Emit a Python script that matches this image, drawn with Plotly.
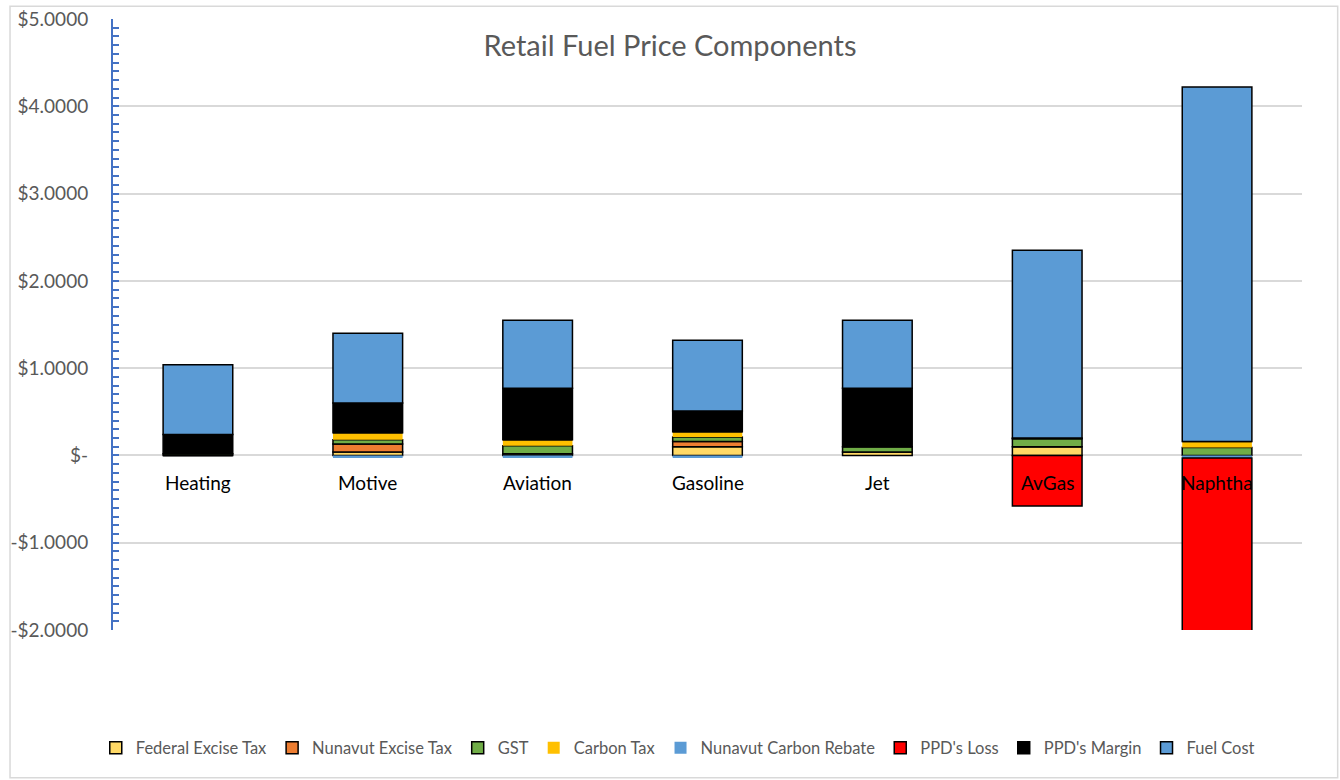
import plotly.graph_objects as go

categories = ["Heating", "Motive", "Aviation", "Gasoline", "Jet", "AvGas", "Naphtha"]

federal_excise = [0.00, 0.04, 0.02, 0.10, 0.04, 0.10, 0.00]
nunavut_excise = [0.00, 0.09, 0.00, 0.06, 0.00, 0.00, 0.00]
gst = [0.02, 0.05, 0.09, 0.05, 0.06, 0.09, 0.09]
carbon_tax = [0.00, 0.08, 0.07, 0.06, 0.00, 0.00, 0.07]
carbon_rebate = [0.00, -0.03, -0.03, -0.03, 0.00, 0.00, -0.03]
ppd_loss = [0.00, 0.00, 0.00, 0.00, 0.00, -0.58, -2.50]
ppd_margin = [0.22, 0.34, 0.59, 0.24, 0.67, 0.01, 0.00]
fuel_cost = [0.80, 0.80, 0.78, 0.81, 0.78, 2.15, 4.06]

tick_vals = [-2, -1, 0, 1, 2, 3, 4, 5]
tick_text = ["-$2.0000", "-$1.0000", "$-", "$1.0000", "$2.0000", "$3.0000", "$4.0000", "$5.0000"]

series = [
    ("Federal Excise Tax", federal_excise, "#FFD966", 1.5),
    ("Nunavut Excise Tax", nunavut_excise, "#ED7D31", 1.5),
    ("GST", gst, "#70AD47", 1.5),
    ("Carbon Tax", carbon_tax, "#FFC000", 0),
    ("Nunavut Carbon Rebate", carbon_rebate, "#5B9BD5", 0),
    ("PPD's Loss", ppd_loss, "#FF0000", 1.5),
    ("PPD's Margin", ppd_margin, "#000000", 1.5),
    ("Fuel Cost", fuel_cost, "#5B9BD5", 1.5),
]

FONT = "Lato, 'Open Sans', sans-serif"

fig = go.Figure()
for name, vals, color, lw in series:
    fig.add_trace(go.Bar(
        name=name, x=categories, y=vals, width=0.41,
        marker=dict(color=color, line=dict(color="#000000", width=lw)),
    ))

for c in categories:
    fig.add_annotation(x=c, y=0, yshift=-27, text=c, showarrow=False,
                       font=dict(family=FONT, size=19, color="#000000"))

fig.update_layout(
    width=1340, height=780,
    barmode="relative",
    plot_bgcolor="white", paper_bgcolor="white",
    margin=dict(l=113, r=38, t=19, b=150, autoexpand=False),
    font=dict(family=FONT, color="#595959"),
    title=dict(text="Retail Fuel Price Components", x=0.5, xanchor="center",
               y=0.941, yanchor="middle",
               font=dict(family=FONT, size=29, color="#595959")),
    legend=dict(orientation="h", x=0.475, xanchor="center", y=-0.193, yanchor="middle",
                font=dict(family=FONT, size=16.5, color="#595959"),
                itemwidth=30, traceorder="normal"),
    xaxis=dict(showticklabels=False, showgrid=False, zeroline=False, showline=False,
               automargin=False),
    yaxis=dict(range=[-2, 5], tickvals=tick_vals, ticktext=tick_text, automargin=False,
               tickfont=dict(family=FONT, size=19, color="#595959"),
               showgrid=True, gridcolor="#D9D9D9", gridwidth=1.5,
               zeroline=True, zerolinecolor="#D9D9D9", zerolinewidth=2,
               showline=True, linecolor="#4472C4", linewidth=2,
               ticks="inside", ticklen=6, tickcolor="#4472C4", tickwidth=2,
               minor=dict(dtick=0.1, ticks="inside", ticklen=6, tickcolor="#4472C4", tickwidth=2),
               ticklabelstandoff=19),
)

fig.add_shape(type="rect", xref="paper", yref="paper",
              x0=-0.0866, x1=1.030, y0=-0.242, y1=1.021,
              line=dict(color="#D9D9D9", width=1.5), layer="below")

fig.write_html("out.html", config={"displayModeBar": False},
               post_script="document.body.style.margin='0';")
